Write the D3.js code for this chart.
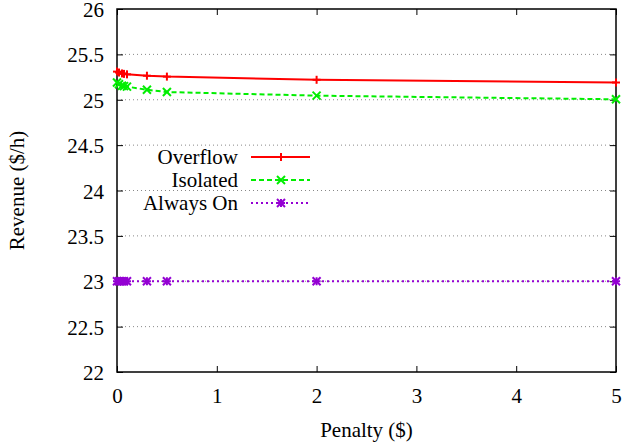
<!DOCTYPE html>
<html>
<head>
<meta charset="utf-8">
<script src="https://cdn.jsdelivr.net/npm/d3@7"></script>
<style>
  body { margin: 0; background: #fff; }
  svg text { font-family: 'Liberation Serif', 'Times New Roman', 'DejaVu Serif', serif !important; }
</style>
</head>
<body>
<svg id="chart" width="623" height="445"></svg>
<script>
var penalty = [0, 0.02, 0.05, 0.07, 0.1, 0.3, 0.5, 2, 5];
var overflow = [25.31, 25.30, 25.29, 25.285, 25.28, 25.265, 25.255, 25.22, 25.19];
var isolated = [25.19, 25.17, 25.155, 25.15, 25.145, 25.11, 25.085, 25.045, 25.005];
var alwaysOn = [23, 23, 23, 23, 23, 23, 23, 23, 23];
var seriesNames = ["Overflow", "Isolated", "Always On"];
var xTicks = [0, 1, 2, 3, 4, 5];
var yTicks = [22, 22.5, 23, 23.5, 24, 24.5, 25, 25.5, 26];

function drawChart() {
  var svg = d3.select("#chart");
  var pLeft = 117, pRight = 616, pTop = 9, pBottom = 372;
  var fs = "21px";
  var ff = "'Liberation Serif', 'Times New Roman', serif";

  var x = d3.scaleLinear().domain([0, 5]).range([pLeft, pRight]);
  var y = d3.scaleLinear().domain([22, 26]).range([pBottom, pTop]);

  // grid lines
  svg.append("g").selectAll("line")
     .data(yTicks.slice(1, -1))
     .enter().append("line")
     .attr("x1", pLeft).attr("x2", pRight)
     .attr("y1", function(d) { return y(d); })
     .attr("y2", function(d) { return y(d); })
     .attr("stroke", "#888")
     .attr("stroke-width", 1)
     .attr("stroke-dasharray", "1,3");

  // axes
  var yAxis = svg.append("g")
     .attr("transform", "translate(" + pLeft + ",0)")
     .call(d3.axisLeft(y).tickValues(yTicks).tickSize(-6).tickPadding(13)
           .tickFormat(function(d) { return d; }));
  var yAxisR = svg.append("g")
     .attr("transform", "translate(" + pRight + ",0)")
     .call(d3.axisRight(y).tickValues(yTicks).tickSize(-6).tickFormat(""));
  var xAxis = svg.append("g")
     .attr("transform", "translate(0," + pBottom + ")")
     .call(d3.axisBottom(x).tickValues(xTicks).tickSize(-6).tickPadding(16)
           .tickFormat(function(d) { return d; }));
  var xAxisT = svg.append("g")
     .attr("transform", "translate(0," + pTop + ")")
     .call(d3.axisTop(x).tickValues(xTicks).tickSize(-6).tickFormat(""));

  [yAxis, yAxisR, xAxis, xAxisT].forEach(function(a) {
    a.attr("font-family", ff).attr("font-size", fs);
    a.select(".domain").remove();
    a.selectAll("line").attr("stroke", "#000");
    a.selectAll("text").attr("fill", "#000");
  });
  yAxis.selectAll("text").attr("dy", "0.36em");
  xAxis.selectAll("text").attr("dy", "0.71em");

  // frame
  svg.append("rect")
     .attr("x", pLeft).attr("y", pTop)
     .attr("width", pRight - pLeft).attr("height", pBottom - pTop)
     .attr("fill", "none").attr("stroke", "#000").attr("stroke-width", 1.5);

  // axis titles
  svg.append("text")
     .attr("transform", "translate(24," + ((pTop + pBottom) / 2) + ") rotate(-90)")
     .attr("text-anchor", "middle")
     .attr("font-family", ff)
     .attr("font-size", fs)
     .text("Revenue ($/h)");
  svg.append("text")
     .attr("x", (pLeft + pRight) / 2).attr("y", 437)
     .attr("text-anchor", "middle")
     .attr("font-family", ff)
     .attr("font-size", fs)
     .text("Penalty ($)");

  var styles = [
    { values: overflow, color: "#ff0000", dash: null, marker: "plus" },
    { values: isolated, color: "#00ee00", dash: "5,3", marker: "cross" },
    { values: alwaysOn, color: "#9400d3", dash: "2,3", marker: "star" }
  ];

  function drawMarker(g, type, px, py, color) {
    var s = 4;
    if (type === "plus" || type === "star") {
      g.append("line").attr("x1", px - s).attr("x2", px + s).attr("y1", py).attr("y2", py)
       .attr("stroke", color).attr("stroke-width", 2);
      g.append("line").attr("x1", px).attr("x2", px).attr("y1", py - s).attr("y2", py + s)
       .attr("stroke", color).attr("stroke-width", 2);
    }
    if (type === "cross" || type === "star") {
      g.append("line").attr("x1", px - s).attr("x2", px + s).attr("y1", py - s).attr("y2", py + s)
       .attr("stroke", color).attr("stroke-width", 2);
      g.append("line").attr("x1", px - s).attr("x2", px + s).attr("y1", py + s).attr("y2", py - s)
       .attr("stroke", color).attr("stroke-width", 2);
    }
  }

  var line = d3.line()
     .x(function(d) { return x(d[0]); })
     .y(function(d) { return y(d[1]); });

  styles.forEach(function(st, i) {
    var pts = penalty.map(function(p, j) { return [p, st.values[j]]; });
    var g = svg.append("g");
    g.append("path")
     .attr("d", line(pts))
     .attr("fill", "none")
     .attr("stroke", st.color)
     .attr("stroke-width", 2)
     .attr("stroke-dasharray", st.dash);
    pts.forEach(function(d) {
      drawMarker(g, st.marker, x(d[0]), y(d[1]), st.color);
    });

    // legend
    var ly = 157 + i * 23;
    svg.append("text")
       .attr("x", 238).attr("y", ly + 7)
       .attr("text-anchor", "end")
       .attr("font-family", ff)
       .attr("font-size", fs)
       .text(seriesNames[i]);
    svg.append("line")
       .attr("x1", 251).attr("x2", 310).attr("y1", ly).attr("y2", ly)
       .attr("stroke", st.color).attr("stroke-width", 2)
       .attr("stroke-dasharray", st.dash);
    drawMarker(svg, st.marker, 281, ly, st.color);
  });
}

drawChart();
</script>
</body>
</html>
